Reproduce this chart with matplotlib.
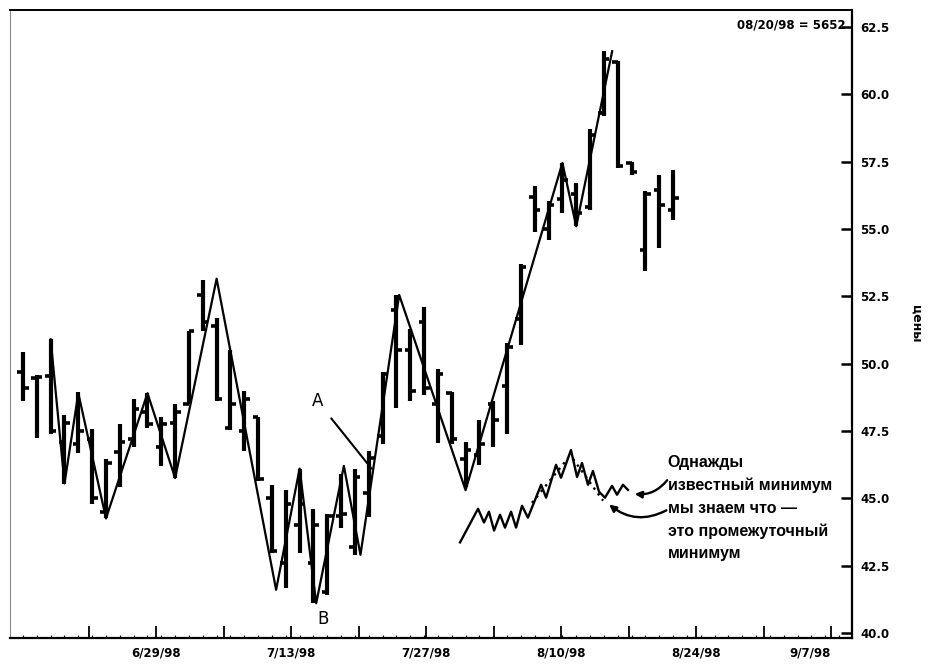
import numpy as np
import pandas as pd
import matplotlib
matplotlib.use("Agg")
import matplotlib.pyplot as plt

# trading days (7/3/98 holiday skipped), bars run up to 8/20/98
days = pd.bdate_range("1998-06-15", "1998-09-11")
days = days[days != pd.Timestamp("1998-07-03")]
pos = np.arange(len(days))

high = [50.44, 49.56, 50.92, 48.08, 48.94, 47.56, 46.46, 47.75, 48.7, 48.9,
        48.0, 48.5, 51.2, 53.1, 51.7, 50.5, 49.0, 48.0, 45.5, 45.3,
        46.1, 44.6, 44.4, 45.9, 46.1, 46.75, 49.7, 52.55, 51.3, 52.1,
        49.8, 48.95, 47.1, 47.9, 48.6, 50.75, 53.7, 56.6, 56.05, 57.45,
        56.7, 58.7, 61.6, 61.25, 57.5, 56.4, 57.0, 57.2]
low = [48.6, 47.24, 47.38, 45.54, 46.69, 44.8, 44.25, 45.4, 46.9, 47.6,
       46.2, 45.75, 48.5, 51.2, 48.6, 47.55, 46.75, 45.65, 42.95, 41.65,
       42.95, 41.1, 41.4, 43.9, 42.9, 44.3, 47.0, 48.35, 48.6, 48.85,
       47.05, 47.0, 45.4, 46.25, 46.9, 47.4, 50.7, 54.9, 54.6, 55.6,
       55.1, 55.7, 59.2, 57.25, 57.0, 53.45, 54.3, 55.35]
open_ = [49.7, 49.45, 49.55, 47.1, 47.0, 47.2, 44.5, 46.7, 47.2, 48.2,
         46.9, 47.8, 48.5, 52.55, 51.4, 47.6, 47.5, 48.0, 45.0, 42.6,
         44.0, 42.6, 41.5, 44.35, 43.2, 45.2, 47.3, 52.0, 50.5, 51.55,
         48.5, 48.9, 46.45, 46.6, 48.5, 49.15, 51.65, 56.2, 55.0, 56.1,
         56.3, 55.8, 59.3, 61.2, 57.45, 54.2, 56.45, 55.7]
close = [49.1, 49.52, 47.5, 47.8, 47.5, 45.0, 46.3, 47.1, 48.3, 47.75,
         47.75, 48.2, 51.2, 51.55, 48.7, 48.5, 48.7, 45.7, 43.05, 44.8,
         44.8, 44.0, 44.35, 44.4, 45.8, 46.5, 49.6, 50.5, 49.0, 49.1,
         49.6, 47.2, 46.8, 47.0, 47.9, 50.6, 53.6, 55.7, 55.9, 56.8,
         55.6, 58.5, 61.3, 57.35, 57.1, 56.3, 55.9, 56.15]

# swing line (bar position, price)
zz_x = [2, 3, 4, 6, 9, 11, 14, 18.3, 20, 21.2, 23.2, 24.4, 27.2, 32, 39, 40, 42.6]
zz_y = [50.9, 45.55, 48.9, 44.25, 48.9, 45.75, 53.15, 41.6, 46.1, 41.1,
        46.2, 42.9, 52.55, 45.3, 57.45, 55.1, 61.6]

# small sketch in the lower right
sk_x = [31.6, 32.9, 33.33, 33.69, 34.06, 34.49, 34.85, 35.29, 35.65, 36.08,
        36.51, 37.46, 37.82, 38.54, 38.9, 39.62, 40.06, 40.42, 40.85, 41.21,
        41.65, 42.08, 42.59, 42.95, 43.38, 43.74]
sk_y = [43.36, 44.61, 44.1, 44.5, 43.8, 44.39, 43.91, 44.5, 43.91, 44.72,
        44.28, 45.5, 45.02, 46.24, 45.76, 46.79, 45.79, 46.31, 45.5, 46.01,
        45.24, 45.02, 45.46, 45.13, 45.5, 45.31]
dot1_x, dot1_y = [36.8, 39.41], [44.83, 46.49]
dot2_x, dot2_y = [39.77, 41.94], [46.46, 44.91]

note = "Однажды\nизвестный минимум\nмы знаем что —\nэто промежуточный\nминимум"

# axis ticks: every monday from 6/22 to 9/7, spaced evenly like the original
tick_dates = pd.date_range("1998-06-22", "1998-09-07", freq="7D")
first_tick = 4.75
week_step = 4.88

fig = plt.figure(figsize=(9.3, 6.68), dpi=100)
ax = fig.add_axes([10 / 930, 1 - 638 / 668, 842 / 930, 628 / 668])

n = len(high)
x = pos[:n]
ax.vlines(x, low, high, color="black", lw=3.0)
ax.hlines(open_, x - 0.4, x, color="black", lw=2.6)
ax.hlines(close, x, x + 0.4, color="black", lw=2.6)

ax.plot(zz_x, zz_y, color="black", lw=1.6)

ax.plot(sk_x, sk_y, color="black", lw=1.7)
ax.plot(dot1_x, dot1_y, color="black", lw=1.7, ls=(0, (1, 2)))
ax.plot(dot2_x, dot2_y, color="black", lw=1.7, ls=(0, (1, 2)))

ax.annotate("", xy=(44.03, 45.17), xytext=(46.7, 45.75),
            arrowprops=dict(arrowstyle="-|>", color="black", lw=1.7,
                            connectionstyle="arc3,rad=-0.3", mutation_scale=10))
ax.annotate("", xy=(42.23, 44.83), xytext=(46.7, 44.6),
            arrowprops=dict(arrowstyle="-|>", color="black", lw=1.7,
                            connectionstyle="arc3,rad=-0.35", mutation_scale=10))
ax.text(46.6, 46.62, note, fontsize=11.5, family="Liberation Sans", fontweight="bold",
        va="top", ha="left", linespacing=1.63)

ax.annotate("A", xy=(25.2, 46.1), xytext=(21.3, 48.6), fontsize=12,
            ha="center", va="center",
            arrowprops=dict(arrowstyle="-", color="black", lw=1.5, shrinkA=6, shrinkB=0))
ax.text(21.7, 40.5, "B", fontsize=12, ha="center", va="center")

ax.text(0.992, 0.986, "08/20/98 = 5652", transform=ax.transAxes, ha="right",
        va="top", fontsize=8.5, fontweight="bold")

ax.set_xlim(-0.94, 59.94)
ax.set_ylim(39.81, 63.13)

ticks = first_tick + week_step * np.arange(len(tick_dates))
labels = [f"{d.month}/{d.day}/98" if k % 2 == 1 else ""
          for k, d in enumerate(tick_dates)]
ax.set_xticks(ticks)
ax.set_xticklabels(labels, fontsize=8.5, fontweight="bold")
ax.get_xticklabels()[-1].set_horizontalalignment("right")
ax.set_xticks(pos[pos <= 59], minor=True)
ax.tick_params(axis="x", which="major", direction="in", length=9, width=1.3, pad=6)
ax.tick_params(axis="x", which="minor", direction="in", length=2, width=0.8)

yt = np.arange(40, 62.6, 2.5)
ax.yaxis.tick_right()
ax.set_yticks(yt)
ax.set_yticklabels([f"{v:.1f}" for v in yt], fontsize=8.5, fontweight="bold")
ax.tick_params(axis="y", direction="in", length=8, width=1.8, pad=6)
ax.yaxis.set_label_position("right")
ax.set_ylabel("цены", rotation=270, fontsize=9, fontweight="bold", labelpad=24)

for side in ["bottom", "right"]:
    ax.spines[side].set_linewidth(1.6)
ax.spines["top"].set_linewidth(1.4)
ax.spines["left"].set_linewidth(0.8)
ax.spines["left"].set_color("#888888")

fig.savefig("out.png", dpi=100)
